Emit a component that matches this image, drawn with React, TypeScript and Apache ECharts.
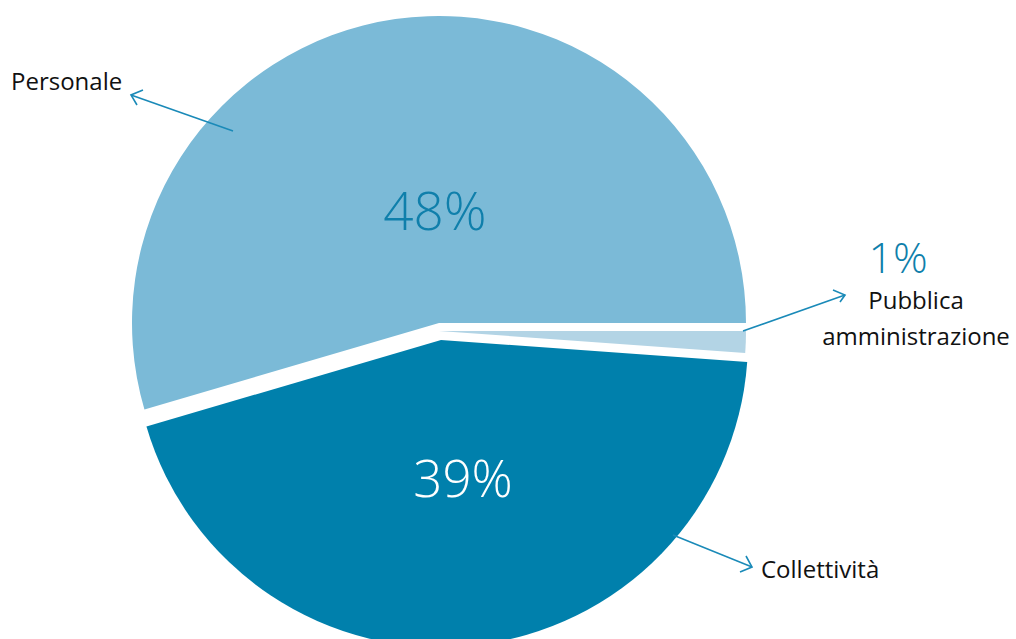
import React, { useEffect, useRef } from "react";
import * as echarts from "echarts";

const categories = ["Personale", "Collettività", "Pubblica amministrazione"];
const values = [48, 39, 1];
const colors = ["#7bbad7", "#0080ac", "#b3d4e5"];
// pie centres per slice (exploded look)
const centers: [number, number][] = [
  [439, 323],
  [441, 340],
  [439, 331],
];
const labelLines = [["Personale"], ["Collettività"], ["Pubblica", "amministrazione"]];

const FONT = "'Open Sans', 'Noto Sans', sans-serif";
const ARROW = "#1a8ab8";
const PCT = "#0f7fab";

function arrow(x1: number, y1: number, tx: number, ty: number, a: [number, number], b: [number, number]) {
  return [
    { type: "line", z: 100, shape: { x1, y1, x2: tx, y2: ty }, style: { stroke: ARROW, lineWidth: 1.6 }, silent: true },
    { type: "polyline", z: 100, shape: { points: [a, [tx, ty], b] }, style: { stroke: ARROW, lineWidth: 1.6, fill: null }, silent: true },
  ];
}

export default function App() {
  const ref = useRef<HTMLDivElement>(null);
  useEffect(() => {
    if (!ref.current) return;
    const chart = echarts.init(ref.current, null, { renderer: "svg" });
    const series = categories.map((_, si) => ({
      type: "pie",
      radius: 307,
      center: centers[si],
      startAngle: 0,
      clockwise: false,
      silent: true,
      z: 1,
      label: { show: false },
      labelLine: { show: false },
      emphasis: { disabled: true },
      data: categories.map((name, i) => ({
        name,
        value: values[i],
        itemStyle: { color: colors[i], opacity: i === si ? 1 : 0 },
      })),
    }));
    const pctText = (i: number, x: number, y: number, size: number, fill: string) => ({
      type: "text",
      x,
      y,
      z: 100,
      silent: true,
      style: {
        text: `${values[i]}%`,
        font: `350 ${size}px ${FONT}`,
        fill,
        align: "center",
        verticalAlign: "middle",
      },
    });
    const nameText = (text: string, x: number, y: number, align: string) => ({
      type: "text",
      x,
      y,
      z: 100,
      silent: true,
      style: { text, font: `24px ${FONT}`, fill: "#111", align, verticalAlign: "middle" },
    });
    chart.setOption({
      animation: false,
      backgroundColor: "#ffffff",
      series,
      graphic: {
        elements: [
          pctText(0, 435, 209, 53, PCT),
          pctText(1, 463, 477, 51, "#ffffff"),
          pctText(2, 898, 256, 43, PCT),
          nameText(labelLines[0][0], 11, 80, "left"),
          nameText(labelLines[1][0], 761, 568, "left"),
          nameText(labelLines[2][0], 916, 299, "center"),
          nameText(labelLines[2][1], 916, 335, "center"),
          ...arrow(233, 131, 131, 95, [143, 90], [137, 105]),
          ...arrow(743, 331, 845, 295, [833, 290], [840, 302]),
          ...arrow(673, 535, 752, 567, [746, 556], [740, 572]),
        ],
      },
    });
    return () => chart.dispose();
  }, []);
  return <div ref={ref} style={{ position: "fixed", left: 0, top: 0, width: 1016, height: 639 }} />;
}
